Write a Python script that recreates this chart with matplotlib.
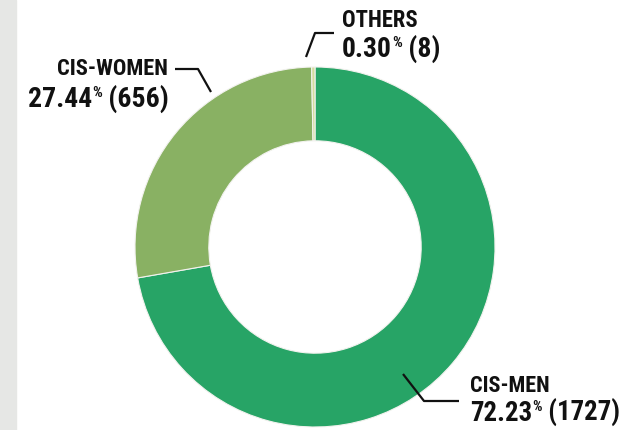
import matplotlib
matplotlib.use("Agg")
import matplotlib.pyplot as plt
from matplotlib import font_manager
from matplotlib.patches import Rectangle

# Gender split of respondents
labels = ["CIS-MEN", "CIS-WOMEN", "OTHERS"]
shares = [72.23, 27.44, 0.30]
counts = [1727, 656, 8]
colors = ["#27a466", "#89b163", "#d4dc9e"]

# pick the narrowest face that is installed
installed = {f.name for f in font_manager.fontManager.ttflist}
FONT = "DejaVu Sans"
for cand in ["Liberation Sans Narrow", "Roboto Condensed", "Open Sans Condensed"]:
    if cand in installed:
        FONT = cand
        break
STRETCH = "condensed"

W, H = 624, 430

fig = plt.figure(figsize=(W / 100, H / 100), dpi=100)
ax = fig.add_axes([0, 0, 1, 1])

# donut, drawn clockwise from 12 o'clock
cx, cy, r = 315, H - 247, 180
ax.pie(shares, colors=colors, startangle=90, counterclock=False,
       center=(cx, cy), radius=r,
       wedgeprops=dict(width=r * 0.41, edgecolor="#f2f2ee", linewidth=0.8))
ax.set_xlim(0, W)
ax.set_ylim(0, H)
ax.set_aspect("equal")
ax.axis("off")

# grey strip on the left edge
ax.add_patch(Rectangle((0, 0), 16, H, color="#e6e7e5", zorder=0, clip_on=False))

renderer = fig.canvas.get_renderer()


def yy(v):
    return H - v


def make(txt, size):
    return ax.text(0, 0, txt, fontsize=size, fontweight="bold", family=FONT,
                   fontstretch=STRETCH, color="#111111", va="baseline")


def width(a):
    return a.get_window_extent(renderer).width


def value_line(x, y, share, count, span, ha="left", size=20):
    """Draw '72.23% (1727)' with a small raised percent sign, fitted to span px."""
    parts = [(f"{share:.2f}", 1.0, 0.0), ("%", 0.55, 0.36), (f" ({count})", 1.0, 0.0)]
    arts = [make(t, size * k) for t, k, _ in parts]
    total = sum(width(a) for a in arts)
    scale = min(1.0, span / total)
    for a, (t, k, _) in zip(arts, parts):
        a.set_fontsize(size * k * scale)
    widths = [width(a) for a in arts]
    x0 = x if ha == "left" else x - sum(widths)
    for a, w, (t, k, dy) in zip(arts, widths, parts):
        a.set_position((x0, yy(y) + dy * size * scale * 100 / 72))
        x0 += w


def title(x, y, txt, span, ha="left", size=17):
    a = make(txt, size)
    a.set_fontsize(size * min(1.0, span / width(a)))
    a.set_ha(ha)
    a.set_position((x, yy(y)))


line_kw = dict(color="#111111", lw=1.6, solid_capstyle="butt")

# CIS-MEN label and leader
ax.plot([403, 424, 459], [yy(374), yy(401), yy(401)], **line_kw)
title(470, 392, labels[0], 80)
value_line(470, 421, shares[0], counts[0], 150)

# CIS-WOMEN label and leader
ax.plot([175, 198, 211], [yy(69), yy(69), yy(92)], **line_kw)
title(168, 75, labels[1], 111, ha="right")
value_line(169, 107, shares[1], counts[1], 142, ha="right")

# OTHERS label and leader
ax.plot([306, 315, 334], [yy(57), yy(33), yy(33)], **line_kw)
title(342, 27, labels[2], 76)
value_line(342, 57, shares[2], counts[2], 98)

fig.savefig("out.png", dpi=100, facecolor="white")
